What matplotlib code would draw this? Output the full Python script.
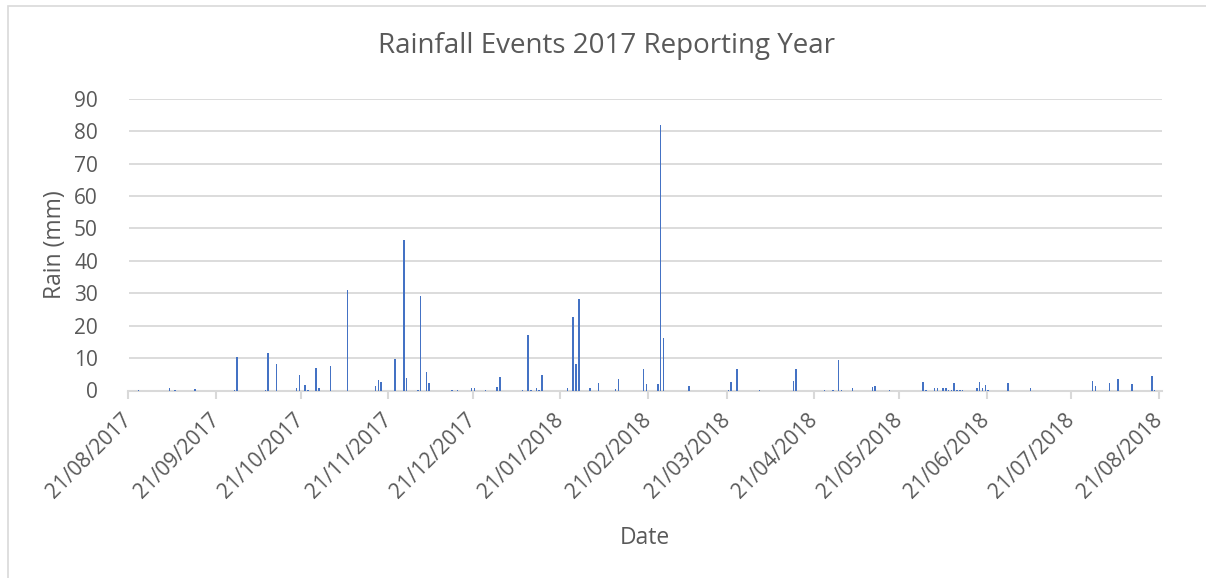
import matplotlib
matplotlib.use("Agg")
import matplotlib.pyplot as plt
import matplotlib.dates as mdates
from matplotlib.patches import Rectangle
import datetime as dt

plt.rcParams['font.family'] = ['Open Sans', 'DejaVu Sans']

# Rainfall events (date, mm)
dates = [
    "2017-08-24", "2017-09-04", "2017-09-06", "2017-09-13", "2017-09-27", "2017-09-28",
    "2017-10-08", "2017-10-09", "2017-10-12", "2017-10-19", "2017-10-20", "2017-10-22",
    "2017-10-23", "2017-10-26", "2017-10-27", "2017-10-31", "2017-11-06", "2017-11-16",
    "2017-11-17", "2017-11-18", "2017-11-23", "2017-11-26", "2017-11-27", "2017-12-01",
    "2017-12-02", "2017-12-04", "2017-12-05", "2017-12-13", "2017-12-15", "2017-12-20",
    "2017-12-21", "2017-12-25", "2017-12-29", "2017-12-30", "2018-01-07", "2018-01-09",
    "2018-01-10", "2018-01-12", "2018-01-13", "2018-01-14", "2018-01-23", "2018-01-25",
    "2018-01-26", "2018-01-27", "2018-01-31", "2018-02-03", "2018-02-09", "2018-02-10",
    "2018-02-19", "2018-02-20", "2018-02-24", "2018-02-25", "2018-02-26", "2018-03-07",
    "2018-03-21", "2018-03-22", "2018-03-24", "2018-04-01", "2018-04-13", "2018-04-14",
    "2018-04-24", "2018-04-27", "2018-04-29", "2018-04-30", "2018-05-04", "2018-05-11",
    "2018-05-12", "2018-05-17", "2018-05-29", "2018-05-30", "2018-06-02", "2018-06-03",
    "2018-06-05", "2018-06-06", "2018-06-07", "2018-06-08", "2018-06-09", "2018-06-10",
    "2018-06-11", "2018-06-12", "2018-06-17", "2018-06-18", "2018-06-19", "2018-06-20",
    "2018-06-21", "2018-06-28", "2018-07-06", "2018-07-28", "2018-07-29", "2018-08-03",
    "2018-08-06", "2018-08-11", "2018-08-18", "2018-08-19",
]
rain_mm = [
    0.3, 0.9, 0.2, 0.5, 0.3, 10.4,
    0.3, 11.5, 8.3, 0.8, 4.9, 1.6,
    0.3, 6.8, 0.7, 7.5, 31.0, 1.5,
    3.1, 2.5, 9.7, 46.5, 4.0, 0.3,
    29.1, 5.8, 2.2, 0.3, 0.2, 0.9,
    0.9, 0.2, 1.2, 4.3, 0.2, 17.0,
    0.3, 0.7, 0.3, 4.8, 0.9, 22.6,
    8.3, 28.2, 0.7, 2.2, 0.5, 3.4,
    6.5, 1.9, 1.9, 81.9, 16.2, 1.3,
    0.2, 2.5, 6.5, 0.2, 2.8, 6.5,
    0.3, 0.3, 9.4, 0.2, 0.9, 1.1,
    1.5, 0.2, 2.5, 0.3, 0.7, 0.7,
    0.9, 0.9, 0.3, 0.3, 2.4, 0.3,
    0.3, 0.3, 0.7, 2.5, 0.9, 1.8,
    0.3, 2.2, 0.7, 2.8, 1.3, 2.4,
    3.4, 1.9, 4.4, 0.3,
]
tick_labels = ["21/08/2017", "21/09/2017", "21/10/2017", "21/11/2017", "21/12/2017",
               "21/01/2018", "21/02/2018", "21/03/2018", "21/04/2018", "21/05/2018",
               "21/06/2018", "21/07/2018", "21/08/2018"]
y_ticks = [0, 10, 20, 30, 40, 50, 60, 70, 80, 90]

W, H = 1206, 578
fig = plt.figure(figsize=(W / 100, H / 100), dpi=100)
fig.patch.set_facecolor("white")

# chart border
fig.patches.append(Rectangle((8 / W, -0.1), 1.2, 1.1 - 6 / H, transform=fig.transFigure,
                             fill=False, edgecolor="#D9D9D9", linewidth=1.2))

ax = fig.add_axes([128.5 / W, (H - 390.5) / H, (1162 - 128.5) / W, (390.5 - 98.7) / H])

xd = [mdates.date2num(dt.datetime.strptime(d, "%Y-%m-%d")) + 0.5 for d in dates]
ax.bar(xd, rain_mm, width=0.55, color="#4472C4", linewidth=0, zorder=3)

tick_pos = [mdates.date2num(dt.datetime.strptime(t, "%d/%m/%Y")) for t in tick_labels]
ax.set_xticks(tick_pos)
ax.set_xticklabels(tick_labels, rotation=45, ha="right", va="center",
                   rotation_mode="anchor", fontsize=15, color="#595959")
ax.set_xlim(tick_pos[0], tick_pos[-1] + 1.1)
ax.set_ylim(0, 90)
ax.set_yticks(y_ticks)
ax.set_yticklabels([str(v) for v in y_ticks], fontsize=15, color="#595959")

ax.grid(axis="y", color="#D9D9D9", linewidth=1.3, zorder=0)
ax.set_axisbelow(True)
for s in ["top", "right", "left"]:
    ax.spines[s].set_visible(False)
ax.spines["bottom"].set_color("#D9D9D9")
ax.spines["bottom"].set_linewidth(1.5)
ax.tick_params(axis="x", color="#D9D9D9", length=6, width=1.5, pad=13)
ax.tick_params(axis="y", length=0, pad=22)

ax.set_xlabel("Date", fontsize=16.5, color="#595959", labelpad=17)
ax.set_ylabel("Rain (mm)", fontsize=16.5, color="#595959", labelpad=5)

fig.text(0.5025, 1 - 46 / H, "Rainfall Events 2017 Reporting Year", ha="center", va="center",
         fontsize=20, color="#595959")

fig.savefig("out.png", dpi=100, facecolor="white")
